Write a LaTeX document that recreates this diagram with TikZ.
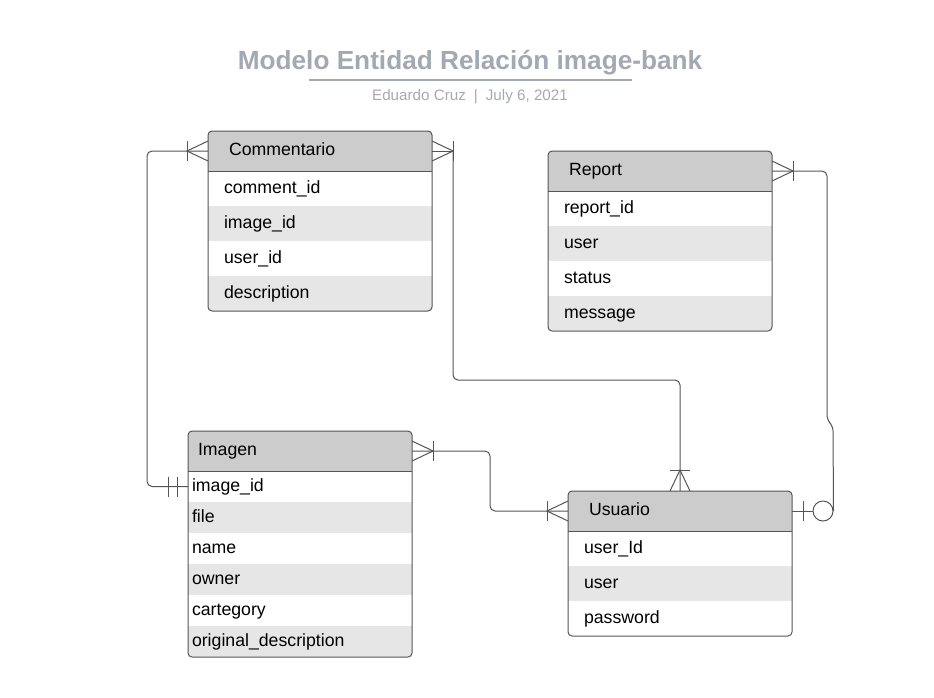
\documentclass[tikz,border=0pt]{standalone}
\usepackage{fontspec}
\setmainfont{Liberation Sans}
\usetikzlibrary{positioning}

\definecolor{headgray}{HTML}{CCCCCC}
\definecolor{rowgray}{HTML}{E6E6E6}
\definecolor{linegray}{HTML}{555555}
\definecolor{titlegray}{HTML}{A3A9B2}
\definecolor{subgray}{HTML}{A6AAB0}

\tikzset{
  field/.style={rectangle, outer sep=0pt, inner ysep=0pt, inner xsep=16pt,
    text width=192pt, align=left, minimum height=35pt,
    text height=13pt, text depth=4pt, font=\fontsize{17.7}{21}\selectfont},
  alt/.style={fill=rowgray},
  head/.style={field, fill=headgray, minimum height=40pt, inner xsep=21pt, text width=182pt},
  imgfield/.style={field, minimum height=31pt, inner xsep=4pt, text width=216pt},
  box/.style={draw=linegray, line width=1pt, rounded corners=4pt},
  link/.style={draw=linegray, line width=1pt, rounded corners=5pt},
  foot/.style={draw=linegray, line width=1pt},
}

\begin{document}
\begin{tikzpicture}[x=1pt, y=-1pt]
    % Canvas
    \fill[white] (0,0) rectangle (934,697);
    \useasboundingbox (0,0) rectangle (934,697);

    % Title and subtitle
    \node[font=\fontsize{26.2}{30}\selectfont\bfseries, text=titlegray] (title) at (470,63) {Modelo Entidad Relación image-bank};
    \draw[titlegray, line width=2pt] (309,80) -- (632,80);
    \node[font=\fontsize{15.2}{18}\selectfont, text=subgray] (subtitle) at (470,97) {Eduardo Cruz\hspace{8pt}|\hspace{8pt}July 6, 2021};

    % Commentario
    \begin{scope}
        \clip[rounded corners=4pt] (208,131) rectangle ++(224,180);
        \node[head, anchor=north west] (comhead) at (208,131) {Commentario};
        \node[field, below=0pt of comhead] (comid) {comment\_id};
        \node[field, alt, below=0pt of comid] (comimg) {image\_id};
        \node[field, below=0pt of comimg] (comuser) {user\_id};
        \node[field, alt, below=0pt of comuser] (comdesc) {description};
    \end{scope}
    \draw[box] (comhead.north west) rectangle (comdesc.south east);
    \draw[box] (comhead.south west) -- (comhead.south east);

    % Report
    \begin{scope}
        \clip[rounded corners=4pt] (548,151) rectangle ++(224,180);
        \node[head, anchor=north west] (rephead) at (548,151) {Report};
        \node[field, below=0pt of rephead] (repid) {report\_id};
        \node[field, alt, below=0pt of repid] (repuser) {user};
        \node[field, below=0pt of repuser] (repstatus) {status};
        \node[field, alt, below=0pt of repstatus] (repmsg) {message};
    \end{scope}
    \draw[box] (rephead.north west) rectangle (repmsg.south east);
    \draw[box] (rephead.south west) -- (rephead.south east);

    % Imagen
    \begin{scope}
        \clip[rounded corners=4pt] (188,431) rectangle ++(224,226);
        \node[head, inner xsep=10pt, text width=204pt, anchor=north west] (imghead) at (188,431) {Imagen};
        \node[imgfield, below=0pt of imghead] (imgid) {image\_id};
        \node[imgfield, alt, below=0pt of imgid] (imgfile) {file};
        \node[imgfield, below=0pt of imgfile] (imgname) {name};
        \node[imgfield, alt, below=0pt of imgname] (imgowner) {owner};
        \node[imgfield, below=0pt of imgowner] (imgcat) {cartegory};
        \node[imgfield, alt, below=0pt of imgcat] (imgdesc) {original\_description};
    \end{scope}
    \draw[box] (imghead.north west) rectangle (imgdesc.south east);
    \draw[box] (imghead.south west) -- (imghead.south east);

    % Usuario
    \begin{scope}
        \clip[rounded corners=4pt] (568,491) rectangle ++(224,145);
        \node[head, anchor=north west] (usrhead) at (568,491) {Usuario};
        \node[field, below=0pt of usrhead] (usrid) {user\_Id};
        \node[field, alt, below=0pt of usrid] (usruser) {user};
        \node[field, below=0pt of usruser] (usrpass) {password};
    \end{scope}
    \draw[box] (usrhead.north west) rectangle (usrpass.south east);
    \draw[box] (usrhead.south west) -- (usrhead.south east);

    % Apex points of the crow's feet
    \coordinate (comL) at ([xshift=-21pt]comhead.west);
    \coordinate (comR) at ([xshift=21pt]comhead.east);
    \coordinate (repR) at ([xshift=21pt]rephead.east);
    \coordinate (imgR) at ([xshift=21pt]imghead.east);
    \coordinate (usrL) at ([xshift=-21pt]usrhead.west);
    \coordinate (usrT) at ([yshift=21pt]usrhead.north);
    \node[circle, draw=linegray, line width=1pt, minimum size=20pt, inner sep=0pt, fill=white] (usrO) at ([xshift=31pt]usrhead.east) {};

    % Connectors
    \draw[link] (comhead.west) -- ++(-61,0) |- (imgid.west);
    \draw[foot] (comhead.east) -- (comR);
    \draw[link] (comR) -- ++(0,229) -| (usrhead.north);
    \draw[link] (rephead.east) -- ++(55,0) -- ++(0,249) -- ++(6,6) -- (usrO.east);
    \draw[foot] (usrhead.east) -- (usrO.west);
    \draw[link] (imghead.east) -- ++(78,0) |- (usrhead.west);

    % Crow's feet with one bar
    \foreach \a/\p in {comhead.west/comL, comhead.east/comR, rephead.east/repR, imghead.east/imgR, usrhead.west/usrL} {
        \draw[foot] ([yshift=10pt]\a) -- (\p) -- ([yshift=-10pt]\a);
        \draw[foot] ([yshift=10pt]\p) -- ([yshift=-10pt]\p);
    }
    \draw[foot] ([xshift=-10pt]usrhead.north) -- (usrT) -- ([xshift=10pt]usrhead.north);
    \draw[foot] ([xshift=-10pt]usrT) -- ([xshift=10pt]usrT);

    % Single bars
    \draw[foot] ([xshift=-11pt,yshift=10pt]imgid.west) -- ++(0,20);
    \draw[foot] ([xshift=-20pt,yshift=10pt]imgid.west) -- ++(0,20);
    \draw[foot] ([xshift=11pt,yshift=10pt]usrhead.east) -- ++(0,20);
\end{tikzpicture}
\end{document}
